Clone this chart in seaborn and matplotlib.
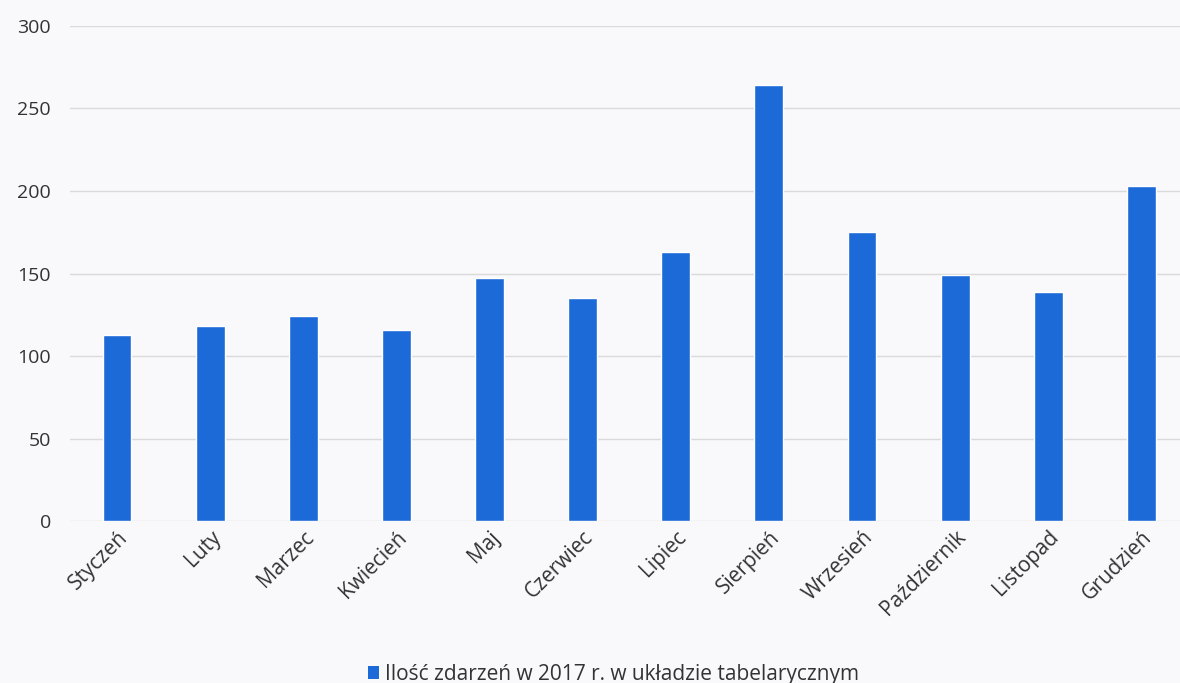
import matplotlib
matplotlib.use("Agg")
import matplotlib.pyplot as plt
import seaborn as sns
import pandas as pd
from matplotlib.patches import Patch

months = ["Styczeń", "Luty", "Marzec", "Kwiecień", "Maj", "Czerwiec", "Lipiec",
          "Sierpień", "Wrzesień", "Październik", "Listopad", "Grudzień"]
values = [113, 118, 124, 116, 147, 135, 163, 264, 175, 149, 139, 203]
yticks = [0, 50, 100, 150, 200, 250, 300]
legend_label = "Ilość zdarzeń w 2017 r. w układzie tabelarycznym"

sns.set_theme(style="white")
plt.rcParams['font.family'] = ['Open Sans', 'DejaVu Sans']

df = pd.DataFrame({"month": months, "value": values})

bg = "#f9f9fb"
blue = "#1c69d8"
fig = plt.figure(figsize=(11.8, 6.83), dpi=100, facecolor=bg)
ax = fig.add_axes([0.0597, 0.237, 0.947, 0.725])
ax.set_facecolor(bg)

sns.barplot(data=df, x="month", y="value", color=blue, width=0.31, ax=ax,
            saturation=1, zorder=3)

ax.set_ylim(0, 300)
ax.set_xlim(-0.5, len(months) - 0.5)
ax.set_yticks(yticks)
ax.set_yticklabels([str(t) for t in yticks], fontsize=14, color="#333333")
ax.yaxis.grid(True, color="#dadada", linewidth=1.0, zorder=0)
ax.set_axisbelow(True)
for s in ax.spines.values():
    s.set_visible(False)
ax.tick_params(axis="y", length=0, pad=14)
ax.tick_params(axis="x", length=0, pad=4)
ax.set_xticks(range(len(months)))
ax.set_xticklabels(months, rotation=45, ha="right", rotation_mode="anchor",
                   fontsize=15, color="#333333")
ax.set_xlabel("")
ax.set_ylabel("")

handle = Patch(facecolor=blue, edgecolor="none")
fig.legend([handle], [legend_label], loc="center", bbox_to_anchor=(0.52, 0.013),
           frameon=False, fontsize=15, handlelength=0.55, handleheight=0.55,
           handletextpad=0.3, labelcolor="#333333")

fig.savefig("out.png", dpi=100, facecolor=bg)
